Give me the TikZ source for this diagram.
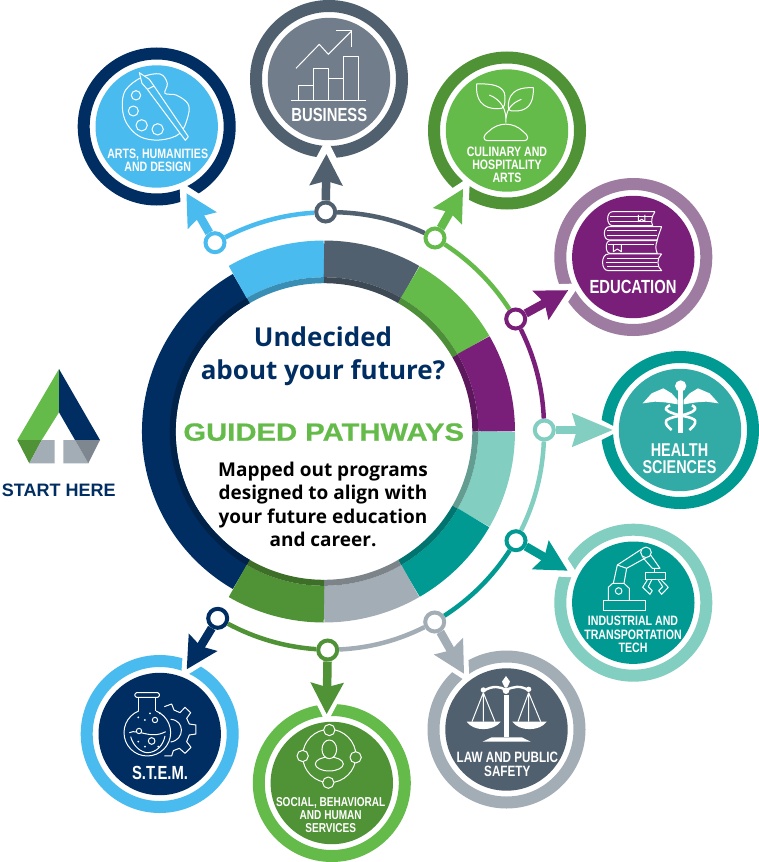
\documentclass[tikz,border=0pt]{standalone}
\usepackage{fontspec}
\usetikzlibrary{arrows.meta}
\setmainfont{Open Sans}
\newfontfamily\badgefont[FakeStretch=0.78]{Liberation Sans}
\newfontfamily\wordfont[FakeStretch=1.17, FakeBold=0.6]{Liberation Sans}
\newfontfamily\plainfont{Liberation Sans}
\definecolor{colorNavy}{HTML}{012E62}
\definecolor{colorSky}{HTML}{49BBEE}
\definecolor{colorSlate}{HTML}{51606E}
\definecolor{colorSteel}{HTML}{717D8A}
\definecolor{colorGreen}{HTML}{65BB4A}
\definecolor{colorForest}{HTML}{509236}
\definecolor{colorPurple}{HTML}{7A1F79}
\definecolor{colorLilac}{HTML}{9E7BA0}
\definecolor{colorTeal}{HTML}{009A93}
\definecolor{colorLagoon}{HTML}{32ABA7}
\definecolor{colorMint}{HTML}{82CEC0}
\definecolor{colorGrey}{HTML}{A3ADB6}
\definecolor{colorIron}{HTML}{7E868F}
\tikzset{
  badge/.style={circle, draw=#1, fill=white, line width=12pt, minimum size=146pt, inner sep=0pt, outer sep=0pt},
  disc/.style={circle, fill=#1, minimum size=122.4pt, inner sep=0pt},
  hub/.style={circle, draw=#1, fill=white, line width=4pt, minimum size=19pt, inner sep=0pt, outer sep=2pt},
  track/.style={draw=#1, line width=4.5pt, bend left=12, looseness=.87},
  pointer/.style={draw=#1, line width=8.5pt, -{Stealth[length=31pt, width=32pt, inset=4pt, color=#1]}},
  halo/.style={draw=white, line width=1pt, shorten >=-14pt, -{Stealth[length=51pt, width=52pt, inset=6pt, color=white]}},
  caption/.style={text=white, align=center, inner sep=0pt, font=\badgefont\bfseries\fontsize{#1}{#1}\selectfont},
  small caption/.style={text=white, align=center, inner sep=0pt, font=\badgefont\bfseries\fontsize{13.6}{13.3}\selectfont},
  icon/.style={shift={#1}, x=.3333pt, y=-.3333pt, white, line width=1pt, line join=round}
}
\newcommand{\ringpart}[5]{
  \draw[line width=#5pt, #3] (324,-431.5) ++(#1:#4) arc[start angle=#1, end angle=#2, radius=#4];
  \draw[line width=6pt, #3!76!black] (324,-431.5) ++(#1:151.3) arc[start angle=#1, end angle=#2, radius=151.3];
}
\begin{document}
\begin{tikzpicture}[x=1pt, y=1pt]
\path[use as bounding box, fill=white] (0,0) rectangle (759,-862);

\ringpart{120}{240}{colorNavy}{165.15}{33.7}
\ringpart{120}{90}{colorSky}{172.65}{36.7}
\ringpart{90}{60}{colorSlate}{172.65}{36.7}
\ringpart{60}{30}{colorGreen}{172.65}{36.7}
\ringpart{30}{0}{colorPurple}{172.65}{36.7}
\ringpart{0}{-30}{colorMint}{172.65}{36.7}
\ringpart{-30}{-60}{colorTeal}{172.65}{36.7}
\ringpart{-60}{-90}{colorGrey}{172.65}{36.7}
\ringpart{-90}{-120}{colorForest}{172.65}{36.7}

\node[badge=colorNavy] (badgeArts) at (156.7,-126.5) {};
\node[badge=colorSlate] (badgeBusiness) at (329,-79) {};
\node[badge=colorForest] (badgeCulinary) at (507,-130.5) {};
\node[badge=colorLilac] (badgeEducation) at (633.3,-257) {};
\node[badge=colorTeal] (badgeHealth) at (680,-430) {};
\node[badge=colorMint] (badgeIndustrial) at (633.3,-602.7) {};
\node[badge=colorGrey] (badgeLaw) at (506.5,-729.5) {};
\node[badge=colorGreen] (badgeSocial) at (331.8,-783) {};
\node[badge=colorSky] (badgeStem) at (159.7,-734) {};

\node[hub=colorSky] (hubArts) at (215,-242.7) {};
\node[hub=colorSlate] (hubBusiness) at (325.7,-212) {};
\node[hub=colorGreen] (hubCulinary) at (435,-238) {};
\node[hub=colorPurple] (hubEducation) at (515.7,-319) {};
\node[hub=colorMint] (hubHealth) at (544.3,-430) {};
\node[hub=colorTeal] (hubIndustrial) at (516,-540.7) {};
\node[hub=colorGrey] (hubLaw) at (434.7,-622) {};
\node[hub=colorForest] (hubSocial) at (327.7,-650) {};
\node[hub=colorNavy] (hubStem) at (217.7,-618.3) {};

\draw[halo] (hubArts) -- (badgeArts.-66);
\draw[halo] (hubBusiness) -- (badgeBusiness.-92);
\draw[halo] (hubCulinary) -- (badgeCulinary.-127);
\draw[halo] (hubEducation) -- (badgeEducation.-153);
\draw[halo] (hubHealth) -- (badgeHealth.180);
\draw[halo] (hubIndustrial) -- (badgeIndustrial.154);
\draw[halo] (hubLaw) -- (badgeLaw.127);
\draw[halo] (hubSocial) -- (badgeSocial.94);
\draw[halo] (hubStem) -- (badgeStem.67);

\node[disc=colorSky] (discArts) at (badgeArts) {};
\node[disc=colorSteel] (discBusiness) at (badgeBusiness) {};
\node[disc=colorGreen] (discCulinary) at (badgeCulinary) {};
\node[disc=colorPurple] (discEducation) at (badgeEducation) {};
\node[disc=colorLagoon] (discHealth) at (badgeHealth) {};
\node[disc=colorTeal] (discIndustrial) at (badgeIndustrial) {};
\node[disc=colorSlate] (discLaw) at (badgeLaw) {};
\node[disc=colorForest] (discSocial) at (badgeSocial) {};
\node[disc=colorNavy] (discStem) at (badgeStem) {};

\draw[track=colorSky] (hubArts) to (hubBusiness);
\draw[track=colorSlate] (hubBusiness) to (hubCulinary);
\draw[track=colorGreen] (hubCulinary) to (hubEducation);
\draw[track=colorPurple] (hubEducation) to (hubHealth);
\draw[track=colorMint] (hubHealth) to (hubIndustrial);
\draw[track=colorTeal] (hubIndustrial) to (hubLaw);
\draw[track=colorGrey] (hubLaw) to (hubSocial);
\draw[track=colorForest] (hubSocial) to (hubStem);

\draw[pointer=colorSky] (hubArts) -- (badgeArts.-66);
\draw[pointer=colorSlate, shorten >=2pt] (hubBusiness) -- (badgeBusiness.-92);
\draw[pointer=colorGreen] (hubCulinary) -- (badgeCulinary.-127);
\draw[pointer=colorPurple] (hubEducation) -- (badgeEducation.-153);
\draw[pointer=colorMint, shorten >=-6pt, -{Stealth[length=40pt, width=32pt, inset=4pt, color=colorMint]}] (hubHealth) -- (badgeHealth.180);
\draw[pointer=colorTeal] (hubIndustrial) -- (badgeIndustrial.154);
\draw[pointer=colorGrey, shorten >=-3pt] (hubLaw) -- (badgeLaw.127);
\draw[pointer=colorForest, shorten >=-4pt] (hubSocial) -- (badgeSocial.94);
\draw[pointer=colorNavy, shorten >=-3pt] (hubStem) -- (badgeStem.67);

\node[small caption] (captionArts) at (157.7,-160) {ARTS, HUMANITIES\\AND DESIGN};
\node[caption=19] (captionBusiness) at (329.3,-115) {BUSINESS};
\node[small caption] (captionCulinary) at (507,-165) {CULINARY AND\\HOSPITALITY\\ARTS};
\node[caption=19] (captionEducation) at (633,-287) {EDUCATION};
\node[caption=19, font=\badgefont\bfseries\fontsize{18.5}{17.5}\selectfont] (captionHealth) at (679.5,-458.5) {HEALTH\\SCIENCES};
\node[small caption] (captionIndustrial) at (633,-634.5) {INDUSTRIAL AND\\TRANSPORTATION\\TECH};
\node[small caption, font=\badgefont\bfseries\fontsize{15}{14}\selectfont] (captionLaw) at (507.3,-764.7) {LAW AND PUBLIC\\SAFETY};
\node[small caption, font=\badgefont\bfseries\fontsize{12.9}{13.3}\selectfont] (captionSocial) at (330.7,-815) {SOCIAL, BEHAVIORAL\\AND HUMAN\\SERVICES};
\node[caption=19] (captionStem) at (160,-772.7) {S.T.E.M.};

\node[anchor=base, text=colorNavy, font=\bfseries\fontsize{26}{26}\selectfont] (titleTop) at (323,-346) {Undecided};
\node[anchor=base, text=colorNavy, font=\bfseries\fontsize{26}{26}\selectfont] (titleBottom) at (323,-379) {about your future?};
\node[anchor=base, text=colorGreen, font=\wordfont\bfseries\fontsize{25}{25}\selectfont] (titleGuided) at (323.7,-440.7) {GUIDED PATHWAYS};
\node[anchor=base, font=\bfseries\fontsize{19}{19}\selectfont] (lineOne) at (323,-476) {Mapped out programs};
\node[anchor=base, font=\bfseries\fontsize{19}{19}\selectfont] (lineTwo) at (323,-499.5) {designed to align with};
\node[anchor=base, font=\bfseries\fontsize{19}{19}\selectfont] (lineThree) at (323,-523) {your future education};
\node[anchor=base, font=\bfseries\fontsize{19}{19}\selectfont] (lineFour) at (323,-546.7) {and career.};

\fill[colorGreen] (59,-369) -- (17.3,-440) -- (41.7,-440) -- (59,-412.3) -- cycle;
\fill[colorNavy] (59,-369) -- (100,-440) -- (75,-440) -- (59,-412.3) -- cycle;
\fill[colorForest] (17.3,-440) -- (41.7,-440) -- (29.3,-463.3) -- cycle;
\fill[colorGrey] (41.7,-440) -- (54.7,-440) -- (54.7,-463.3) -- (29.3,-463.3) -- cycle;
\fill[colorGrey] (63.3,-440) -- (75,-440) -- (88.3,-463.3) -- (63.3,-463.3) -- cycle;
\fill[colorIron] (75,-440) -- (100,-440) -- (88.3,-463.3) -- cycle;
\node[anchor=base, text=colorNavy, font=\plainfont\bfseries\fontsize{18}{18}\selectfont] (startHere) at (58.7,-496.5) {START HERE};

\begin{scope}[icon={(60,0)}]
\draw plot[smooth cycle, tension=.6] coordinates {(245,232) (300,222) (322,250) (315,280) (348,285) (383,310) (385,345) (360,400) (300,420) (240,410) (200,370) (187,320) (197,270)};
\draw (228,286) circle[radius=14];
\draw (220,333) circle[radius=15];
\draw (245,376) circle[radius=17];
\draw (293,388) circle[radius=17];
\draw[fill=colorSky] (238,218) -- (268,238) -- (282,258) -- (385,410) -- (376,421) -- (262,268) -- (246,250) -- cycle;
\draw (282,258) -- (262,268);
\draw (708,205) -- (778,133) -- (805,163) -- (875,93);
\draw (828,93) -- (875,93) -- (875,140);
\draw (717,302) |- (760,258) -- (760,302);
\draw (762,302) |- (805,207) -- (805,302);
\draw (805,235) -- (850,235) -- (850,302);
\draw (850,302) |- (895,170) -- (895,302);
\draw[line width=1.4pt] (693,302) -- (918,302);
\end{scope}

\begin{scope}[icon={(430,-50)}]
\draw (140,102) .. controls (180,100) and (225,105) .. (225,140) .. controls (225,160) and (225,170) .. (215,175) .. controls (180,180) and (135,170) .. (140,102) -- cycle;
\draw (310,113) .. controls (280,112) and (235,115) .. (235,170) .. controls (235,180) and (240,183) .. (250,183) .. controls (290,185) and (312,165) .. (310,113) -- cycle;
\draw[colorGreen, line width=3pt] (225,215) -- (228,175);
\draw (178,135) .. controls (215,150) and (230,180) .. (228,218);
\draw (274,148) .. controls (245,160) and (232,175) .. (228,205);
\draw (175,272) -- (280,272) .. controls (300,272) and (295,255) .. (280,245) .. controls (250,215) and (205,215) .. (175,245) .. controls (160,255) and (155,272) .. (175,272) -- cycle;
\end{scope}

\begin{scope}[icon={(500,-170)}]
\draw (465,125) -- (338,125) .. controls (318,125) and (318,167) .. (338,167) -- (458,167) .. controls (452,155) and (455,140) .. (465,125);
\draw (330,140) -- (455,140);
\draw (330,155) -- (452,155);
\draw (415,135) -- (415,155) -- (425,148) -- (435,155) -- (435,135);
\draw (485,170) -- (328,170) .. controls (308,170) and (308,210) .. (328,210) -- (472,210) .. controls (475,195) and (480,185) .. (485,170);
\draw (322,183) -- (472,183);
\draw (322,197) -- (470,197);
\draw (472,212) -- (330,212) .. controls (315,212) and (315,250) .. (330,250) -- (472,250) .. controls (466,238) and (466,225) .. (472,212);
\draw (340,225) -- (340,245) -- (352,237) -- (364,245) -- (364,225);
\draw (325,225) -- (462,225);
\draw (485,252) -- (325,252) .. controls (302,252) and (302,302) .. (325,302) -- (485,302) .. controls (470,290) and (470,265) .. (485,252);
\draw (322,265) -- (473,265);
\draw (318,277) -- (470,277);
\draw (322,289) -- (473,289);
\end{scope}

\begin{scope}[icon={(630,-370)}]
\fill (152,48) circle[radius=17];
\fill (144,60) rectangle (160,190);
\fill (38,100) -- (65,70) -- (100,55) -- (125,70) -- (143,90) -- (143,103) -- (105,97) -- (75,95) -- cycle;
\fill (266,100) -- (239,70) -- (204,55) -- (179,70) -- (161,90) -- (161,103) -- (199,97) -- (229,95) -- cycle;
\draw[line width=2.6pt] plot[smooth, tension=.8] coordinates {(186,106) (195,118) (170,132) (120,145) (108,160) (125,180)};
\draw[line width=2.6pt] plot[smooth, tension=.8] coordinates {(120,106) (108,118) (135,132) (185,145) (195,160) (178,180)};
\end{scope}

\begin{scope}[icon={(420,-500)}]
\draw (550,303) rectangle (677,332);
\draw (565,303) -- (565,262) -- (578,250) -- (612,250) -- (628,265) -- (628,303);
\draw (596,273) circle[radius=10];
\draw (580,250) -- (592,195) -- (620,205) -- (612,250);
\draw (592,195) -- (664,148);
\draw (620,205) -- (680,172);
\draw (678,157) circle[radius=16];
\draw (668,172) -- (697,205) -- (720,205) -- (692,165);
\draw (705,205) -- (705,218);
\draw (677,218) rectangle (737,240);
\draw (682,240) -- (668,262) -- (690,283) -- (697,272) -- (685,260) -- (695,240);
\draw (724,240) -- (745,262) -- (725,283) -- (716,272) -- (728,260) -- (715,240);
\end{scope}

\begin{scope}[icon={(420,-500)}]
\fill (252,585) rectangle (268,712);
\fill (188,725) -- (215,712) -- (305,712) -- (332,725) -- cycle;
\fill (258,528) -- (270,545) -- (262,562) -- (254,562) -- (246,545) -- cycle;
\fill (258,572) circle[radius=10];
\fill (190,570) circle[radius=8];
\fill (326,568) circle[radius=8];
\draw[line width=2.4pt] (190,573) .. controls (220,555) and (240,560) .. (258,570) .. controls (280,560) and (300,555) .. (326,571);
\fill (140,665) .. controls (160,695) and (220,695) .. (242,665) -- cycle;
\fill (277,665) .. controls (297,695) and (360,695) .. (380,665) -- cycle;
\draw (190,578) -- (156,665) (190,578) -- (225,665) (190,578) -- (190,665);
\draw (326,578) -- (294,665) (326,578) -- (362,665) (326,578) -- (326,665);
\end{scope}

\begin{scope}[icon={(70,-590)}]
\draw (283,350) -- (305,342) -- (312,360) -- (330,368) -- (345,352) -- (362,368) -- (350,385) -- (358,402) -- (378,405) -- (378,432) -- (358,435) -- (350,455) -- (363,472) -- (345,490) -- (328,475) -- (310,482) -- (305,498) -- (283,498);
\draw (302,388) .. controls (345,390) and (345,450) .. (302,456);
\draw[fill=colorNavy] (232,428) circle[radius=70];
\fill[colorNavy] (208,322) rectangle (257,370);
\draw (207,322) -- (207,362) (258,322) -- (258,362);
\draw[fill=colorNavy, rounded corners=1.5pt] (195,308) rectangle (268,322);
\draw (178,428) .. controls (205,415) and (240,450) .. (287,425);
\draw (182,440) .. controls (190,470) and (215,488) .. (232,488) .. controls (260,488) and (280,465) .. (285,438);
\draw[fill=colorNavy] (207,423) circle[radius=8];
\draw (255,390) circle[radius=8];
\draw[fill=colorNavy] (245,453) circle[radius=10];
\fill (225,390) circle[radius=3];
\fill (205,382) circle[radius=3];
\fill (240,370) circle[radius=3];
\fill (270,370) circle[radius=3];
\fill (205,455) circle[radius=3];
\fill (225,470) circle[radius=3];
\fill (265,470) circle[radius=3];
\draw (778,498) circle[radius=80];
\draw[fill=colorForest] (778,420) circle[radius=17];
\draw[fill=colorForest] (698,498) circle[radius=17];
\draw[fill=colorForest] (857,502) circle[radius=17];
\draw[fill=colorForest] (775,578) circle[radius=17];
\draw (778,522) ellipse[x radius=42, y radius=21];
\draw[fill=colorForest] (778,478) ellipse[x radius=22, y radius=28];
\end{scope}
\end{tikzpicture}
\end{document}
